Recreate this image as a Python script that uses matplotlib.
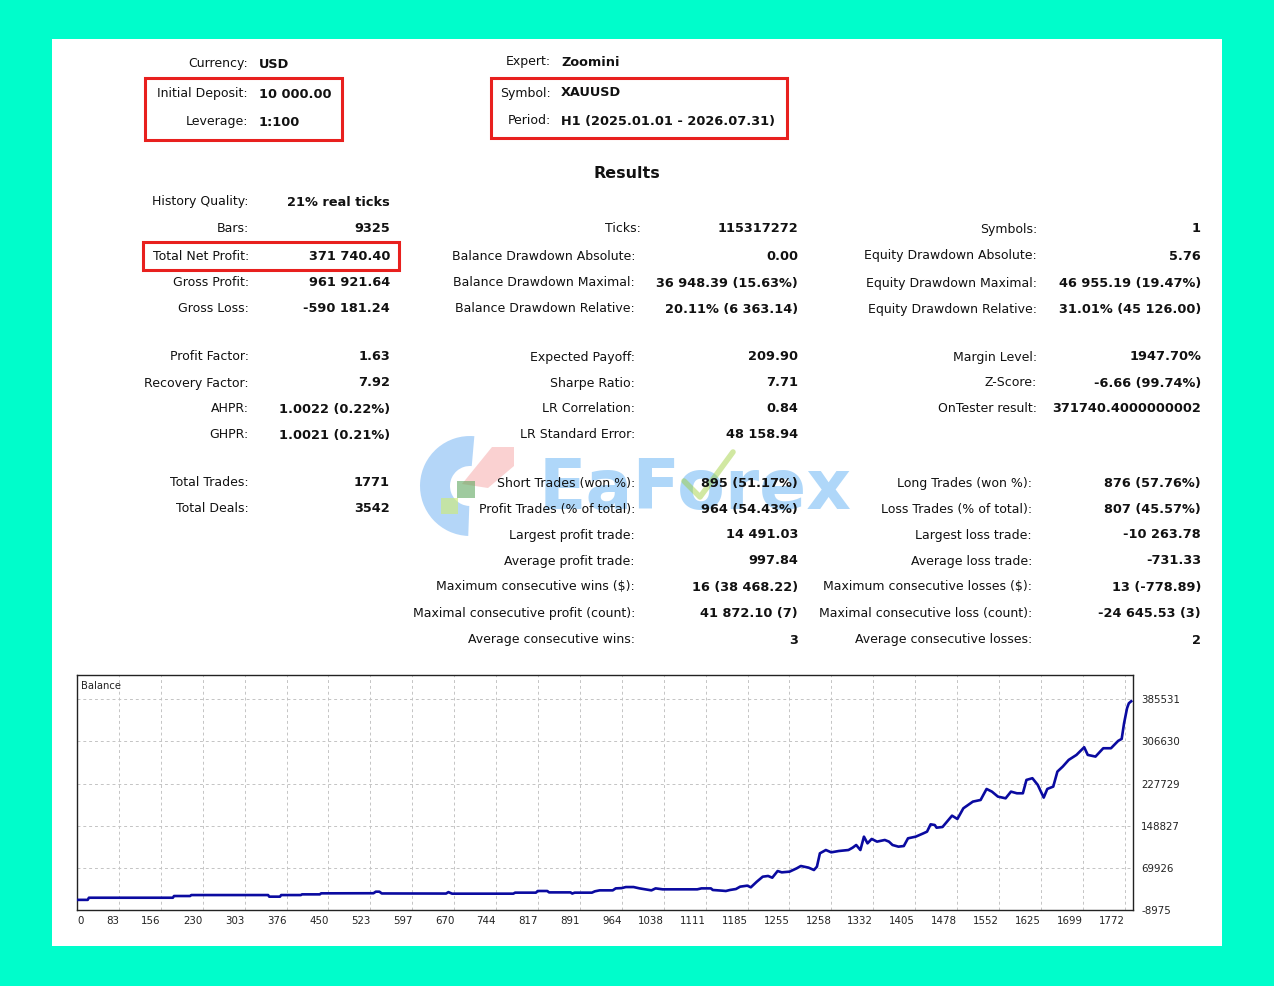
import matplotlib
matplotlib.use("Agg")
import matplotlib.pyplot as plt
from matplotlib.patches import Rectangle, Wedge, Polygon

# ---------------- data ----------------
header_left_labels = ["Currency:", "Initial Deposit:", "Leverage:"]
header_left_values = ["USD", "10 000.00", "1:100"]
header_right_labels = ["Expert:", "Symbol:", "Period:"]
header_right_values = ["Zoomini", "XAUUSD", "H1 (2025.01.01 - 2026.07.31)"]

col1_labels = ["History Quality:", "Bars:", "Total Net Profit:", "Gross Profit:", "Gross Loss:",
               "Profit Factor:", "Recovery Factor:", "AHPR:", "GHPR:",
               "Total Trades:", "Total Deals:"]
col1_values = ["21% real ticks", "9325", "371 740.40", "961 921.64", "-590 181.24",
               "1.63", "7.92", "1.0022 (0.22%)", "1.0021 (0.21%)",
               "1771", "3542"]
col1_rows = [202, 229, 256, 283, 309, 357, 383, 409, 435, 483, 509]

col2_labels = ["Ticks:", "Balance Drawdown Absolute:", "Balance Drawdown Maximal:",
               "Balance Drawdown Relative:", "Expected Payoff:", "Sharpe Ratio:",
               "LR Correlation:", "LR Standard Error:", "Short Trades (won %):",
               "Profit Trades (% of total):", "Largest profit trade:", "Average profit trade:",
               "Maximum consecutive wins ($):", "Maximal consecutive profit (count):",
               "Average consecutive wins:"]
col2_values = ["115317272", "0.00", "36 948.39 (15.63%)", "20.11% (6 363.14)", "209.90",
               "7.71", "0.84", "48 158.94", "895 (51.17%)", "964 (54.43%)", "14 491.03",
               "997.84", "16 (38 468.22)", "41 872.10 (7)", "3"]
col2_rows = [229, 256, 283, 309, 357, 383, 409, 435, 483, 509, 535, 561, 587, 614, 640]

col3_labels = ["Symbols:", "Equity Drawdown Absolute:", "Equity Drawdown Maximal:",
               "Equity Drawdown Relative:", "Margin Level:", "Z-Score:", "OnTester result:",
               "Long Trades (won %):", "Loss Trades (% of total):", "Largest loss trade:",
               "Average loss trade:", "Maximum consecutive losses ($):",
               "Maximal consecutive loss (count):", "Average consecutive losses:"]
col3_values = ["1", "5.76", "46 955.19 (19.47%)", "31.01% (45 126.00)", "1947.70%",
               "-6.66 (99.74%)", "371740.4000000002", "876 (57.76%)", "807 (45.57%)",
               "-10 263.78", "-731.33", "13 (-778.89)", "-24 645.53 (3)", "2"]
col3_rows = [229, 256, 283, 309, 357, 383, 409, 483, 509, 535, 561, 587, 614, 640]

# balance curve (trade number, balance)
balance_trade = [0, 18, 20, 161, 163, 190, 192, 321, 323, 341, 343, 376, 378, 408, 410,
                 498, 502, 508, 512, 620, 624, 630, 733, 736, 771, 774, 790, 793, 829, 832,
                 836, 865, 870, 878, 900, 905, 915, 922, 935, 945, 965, 972, 984, 1042, 1049,
                 1065, 1068, 1084, 1090, 1097, 1107, 1114, 1126, 1132, 1142, 1152, 1161, 1168,
                 1177, 1184, 1197, 1209, 1216, 1229, 1238, 1243, 1248, 1258, 1267, 1280, 1296,
                 1303, 1309, 1316, 1322, 1328, 1335, 1344, 1357, 1364, 1370, 1380, 1389, 1396,
                 1409, 1422, 1428, 1434, 1441, 1444, 1454, 1470, 1479, 1489, 1505, 1518, 1528,
                 1537, 1547, 1560, 1569, 1579, 1589, 1595, 1605, 1614, 1624, 1630, 1640, 1647,
                 1656, 1666, 1679, 1692, 1698, 1711, 1724, 1737, 1749, 1755, 1759, 1764, 1767,
                 1771]
balance_value = [10000, 10000, 14000, 14000, 17200, 17200, 19000, 19000, 16000, 16000, 19000,
                 19000, 20300, 20300, 22200, 22400, 25300, 25300, 22000, 21800, 24500, 21600,
                 21600, 23500, 23500, 26600, 26600, 24000, 24000, 21800, 23500, 23500, 26000,
                 27800, 27800, 31500, 32000, 34000, 34000, 31500, 27800, 31500, 29700, 29700,
                 31500, 31500, 28500, 27200, 26600, 28500, 30300, 34700, 36600, 33500, 44000,
                 53400, 54700, 51500, 64000, 61500, 62800, 69000, 73400, 70300, 65900, 72100,
                 97100, 103300, 99000, 101500, 103300, 107700, 112700, 103300, 128300, 115800,
                 124000, 119000, 122100, 119000, 112700, 109600, 110800, 125200, 128300, 134600,
                 137700, 151400, 150100, 145100, 146400, 167600, 161400, 181400, 193900, 197000,
                 217600, 212600, 203300, 200100, 212600, 209500, 209500, 234500, 237700, 225200,
                 201400, 217600, 222000, 250100, 259500, 272000, 281300, 295700, 281300, 278200,
                 293800, 293800, 307500, 311300, 340600, 368700, 378000, 381740]

x_tick_labels = ["0", "83", "156", "230", "303", "376", "450", "523", "597", "670", "744",
                 "817", "891", "964", "1038", "1111", "1185", "1255", "1258", "1332", "1405",
                 "1478", "1552", "1625", "1699", "1772"]
y_tick_values = [-8975, 69926, 148827, 227729, 306630, 385531]

# ---------------- figure ----------------
W, H = 1274, 986
fig = plt.figure(figsize=(W / 100, H / 100), dpi=100)
fig.patch.set_facecolor("#00FDCB")

bg = fig.add_axes([0, 0, 1, 1])
bg.set_xlim(0, W)
bg.set_ylim(H, 0)
bg.axis("off")
bg.add_patch(Rectangle((52, 39), 1170, 907, facecolor="white", edgecolor="none", zorder=0))

LAB = dict(family="DejaVu Sans", fontsize=9.0, color="#111111", va="center", zorder=4)
VAL = dict(family="DejaVu Sans", fontsize=9.3, color="#111111", va="center",
           fontweight="bold", zorder=4)

# header
for lab, val, y in zip(header_left_labels, header_left_values, [64, 94, 122]):
    bg.text(248, y, lab, ha="right", **LAB)
    bg.text(259, y, val, ha="left", **VAL)
for lab, val, y in zip(header_right_labels, header_right_values, [62, 93, 121]):
    bg.text(551, y, lab, ha="right", **LAB)
    bg.text(561, y, val, ha="left", **VAL)

red = "#E8201E"
bg.add_patch(Rectangle((145, 78), 197, 62, fill=False, edgecolor=red, linewidth=2.2, zorder=3))
bg.add_patch(Rectangle((491, 78), 296, 60, fill=False, edgecolor=red, linewidth=2.2, zorder=3))
bg.add_patch(Rectangle((143, 242), 256, 28, fill=False, edgecolor=red, linewidth=2.2, zorder=3))

bg.text(627, 173, "Results", ha="center", va="center", family="DejaVu Sans",
        fontsize=11.5, fontweight="bold", color="#111111")

# columns
for lab, val, y in zip(col1_labels, col1_values, col1_rows):
    bg.text(249, y, lab, ha="right", **LAB)
    bg.text(390, y, val, ha="right", **VAL)
for lab, val, y in zip(col2_labels, col2_values, col2_rows):
    lx = 641 if lab == "Ticks:" else 635
    bg.text(lx, y, lab, ha="right", **LAB)
    bg.text(798, y, val, ha="right", **VAL)
for i, (lab, val, y) in enumerate(zip(col3_labels, col3_values, col3_rows)):
    lx = 1037 if i < 7 else 1032
    bg.text(lx, y, lab, ha="right", **LAB)
    bg.text(1201, y, val, ha="right", **VAL)

# watermark (logo + word), drawn under the report text
bg.add_patch(Wedge((470, 486), 50, 92, 275, width=30, facecolor="#4E9FF0",
                   alpha=0.42, edgecolor="none", zorder=2))
bg.add_patch(Polygon([(462, 484), (492, 447), (514, 447), (514, 466), (488, 488)],
                     closed=True, facecolor="#F49A9A", alpha=0.45, edgecolor="none", zorder=2))
bg.add_patch(Rectangle((457, 481), 18, 17, facecolor="#5FA85F", alpha=0.6, edgecolor="none", zorder=2))
bg.add_patch(Rectangle((441, 498), 17, 16, facecolor="#CDEB7A", alpha=0.65, edgecolor="none", zorder=2))
bg.text(695, 490, "EaForex", ha="center", va="center", family="DejaVu Sans",
        fontsize=50, fontweight="bold", color="#4FA8F2", alpha=0.45, zorder=2)
bg.plot([684, 700, 733], [481, 497, 452], color="#9ACD32", linewidth=4, alpha=0.45,
        solid_capstyle="round", zorder=2)

# ---------------- balance chart ----------------
left, right, top, bottom = 77, 1133, 675, 910
ax = fig.add_axes([left / W, (H - bottom) / H, (right - left) / W, (bottom - top) / H])
ax.set_facecolor("white")
step = 70.4
x_pos = [k * step for k in range(len(x_tick_labels))]
ax.set_xlim(0, 1774)
ax.set_ylim(-8975, 430900)
ax.plot(balance_trade, balance_value, color="#0A0AA0", linewidth=1.9, zorder=3)

ax.set_xticks(x_pos)
ax.set_xticklabels(x_tick_labels, fontsize=7.4, family="DejaVu Sans", color="#222222")
for i, t in enumerate(ax.get_xticklabels()):
    t.set_ha("left" if i == 0 else "right")
ax.set_yticks(y_tick_values)
ax.set_yticklabels([str(v) for v in y_tick_values], fontsize=7.4, family="DejaVu Sans",
                   color="#222222")
ax.yaxis.tick_right()
ax.tick_params(axis="both", length=0)
ax.tick_params(axis="x", pad=4)
ax.tick_params(axis="y", pad=6)
ax.grid(True, color="#C4C4C4", linestyle=(0, (3, 3)), linewidth=0.7)
for s in ax.spines.values():
    s.set_color("#222222")
    s.set_linewidth(1.0)
ax.text(0.004, 0.955, "Balance", transform=ax.transAxes, ha="left", va="center",
        fontsize=7.2, family="DejaVu Sans", color="#222222")

fig.savefig("out.png", dpi=100, facecolor=fig.get_facecolor())
